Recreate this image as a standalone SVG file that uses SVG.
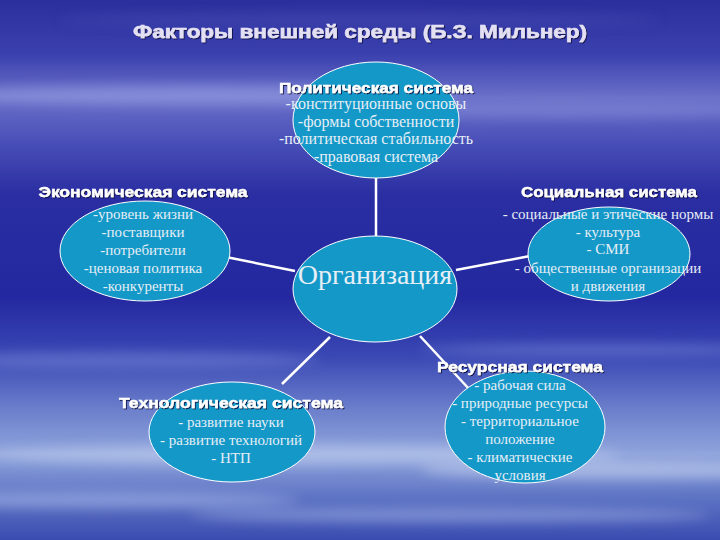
<svg xmlns="http://www.w3.org/2000/svg" width="720" height="540" viewBox="0 0 720 540">
<defs>
<linearGradient id="bg" x1="0" y1="0" x2="0" y2="1">
<stop offset="0" stop-color="#2b2f9c"/>
<stop offset="0.1" stop-color="#3a40ae"/>
<stop offset="0.18" stop-color="#6a70c8"/>
<stop offset="0.26" stop-color="#4a50b8"/>
<stop offset="0.36" stop-color="#2a2ea2"/>
<stop offset="0.55" stop-color="#2428a0"/>
<stop offset="0.66" stop-color="#3a48b4"/>
<stop offset="0.76" stop-color="#6c80cc"/>
<stop offset="0.84" stop-color="#8fa4dc"/>
<stop offset="0.92" stop-color="#5e74c4"/>
<stop offset="1" stop-color="#3a4cb0"/>
</linearGradient>
<filter id="blur" x="-20%" y="-50%" width="140%" height="200%"><feGaussianBlur stdDeviation="6"/></filter>
<filter id="sh" x="-5%" y="-20%" width="110%" height="150%">
<feDropShadow dx="1" dy="1" stdDeviation="0.6" flood-color="#101040" flood-opacity="0.9"/>
</filter>
</defs>
<style>
.node ellipse{fill:#1398c8;stroke:#ffffff;stroke-width:1}
.hd{font-family:"Liberation Sans",Arial,sans-serif;font-weight:bold;font-size:14.5px;fill:#ffffff;stroke:#ffffff;stroke-width:0.4;text-anchor:middle;filter:url(#sh)}
.bd{font-family:"Liberation Serif","Times New Roman",serif;font-size:15px;fill:#e6eef6;text-anchor:middle}
.pb{font-size:16px}
.cn line{stroke:#ffffff;stroke-width:2.5}
</style>
<rect width="720" height="540" fill="url(#bg)"/>
<g opacity="0.5" filter="url(#blur)">
<ellipse cx="200" cy="95" rx="260" ry="10" fill="#a0a8e8"/>
<ellipse cx="560" cy="110" rx="220" ry="8" fill="#8890dc"/>
<ellipse cx="120" cy="360" rx="200" ry="8" fill="#7a88d8"/>
<ellipse cx="600" cy="350" rx="180" ry="6" fill="#7a88d8"/>
<ellipse cx="300" cy="455" rx="320" ry="10" fill="#c8d4f0"/>
<ellipse cx="620" cy="470" rx="200" ry="9" fill="#d0dcf4"/>
<ellipse cx="100" cy="500" rx="200" ry="8" fill="#b0c0ec"/>
<ellipse cx="450" cy="515" rx="260" ry="7" fill="#a8b8e8"/>
<ellipse cx="360" cy="20" rx="300" ry="6" fill="#4a50b4"/>
</g>
<text x="360" y="38" font-family="'Liberation Sans',Arial,sans-serif" font-weight="bold" font-size="19" fill="#e4e0f4" stroke="#e4e0f4" stroke-width="0.6" text-anchor="middle" filter="url(#sh)" textLength="454" lengthAdjust="spacingAndGlyphs">Факторы внешней среды (Б.З. Мильнер)</text>
<g class="cn" id="connectors">
<line x1="376" y1="177" x2="376" y2="238"/>
<line x1="226" y1="257" x2="295" y2="271"/>
<line x1="456" y1="270" x2="530" y2="256"/>
<line x1="330" y1="337" x2="282" y2="384"/>
<line x1="420" y1="336" x2="470" y2="390"/>
</g>
<g class="node" id="political">
<ellipse cx="376" cy="120" rx="83" ry="58"/>
<text class="hd" x="376" y="93" textLength="194" lengthAdjust="spacingAndGlyphs">Политическая система</text>
<text class="bd pb" x="376" y="109">-конституционные основы</text>
<text class="bd pb" x="376" y="127">-формы собственности</text>
<text class="bd pb" x="376" y="144">-политическая стабильность</text>
<text class="bd pb" x="376" y="162">-правовая система</text>
</g>
<g class="node" id="economic">
<ellipse cx="145" cy="251" rx="85" ry="50"/>
<text class="hd" x="143" y="197" textLength="209" lengthAdjust="spacingAndGlyphs">Экономическая система</text>
<text class="bd" x="143" y="219">-уровень жизни</text>
<text class="bd" x="143" y="237">-поставщики</text>
<text class="bd" x="143" y="255">-потребители</text>
<text class="bd" x="143" y="273">-ценовая политика</text>
<text class="bd" x="143" y="291">-конкуренты</text>
</g>
<g class="node" id="social">
<ellipse cx="609" cy="254" rx="81" ry="47"/>
<text class="hd" x="609" y="197" textLength="176" lengthAdjust="spacingAndGlyphs">Социальная система</text>
<text class="bd" x="608" y="219">- социальные и этические нормы</text>
<text class="bd" x="608" y="237">- культура</text>
<text class="bd" x="608" y="254">- СМИ</text>
<text class="bd" x="608" y="273">- общественные организации</text>
<text class="bd" x="608" y="291">и движения</text>
</g>
<g class="node" id="organization">
<ellipse cx="375" cy="289" rx="82" ry="53"/>
<text x="375" y="284" font-family="'Liberation Serif','Times New Roman',serif" font-size="28" fill="#e6eef6" text-anchor="middle">Организация</text>
</g>
<g class="node" id="technological">
<ellipse cx="232" cy="432" rx="83" ry="50"/>
<text class="hd" x="231" y="408" textLength="224" lengthAdjust="spacingAndGlyphs">Технологическая система</text>
<text class="bd" x="231" y="427">- развитие науки</text>
<text class="bd" x="231" y="445">- развитие технологий</text>
<text class="bd" x="231" y="463">- НТП</text>
</g>
<g class="node" id="resource">
<ellipse cx="525" cy="427" rx="80" ry="56"/>
<text class="hd" x="520" y="372" textLength="166" lengthAdjust="spacingAndGlyphs">Ресурсная система</text>
<text class="bd" x="520" y="390">- рабочая сила</text>
<text class="bd" x="520" y="408">- природные ресурсы</text>
<text class="bd" x="520" y="426">- территориальное</text>
<text class="bd" x="520" y="444">положение</text>
<text class="bd" x="520" y="462">- климатические</text>
<text class="bd" x="520" y="480">условия</text>
</g>
</svg>
